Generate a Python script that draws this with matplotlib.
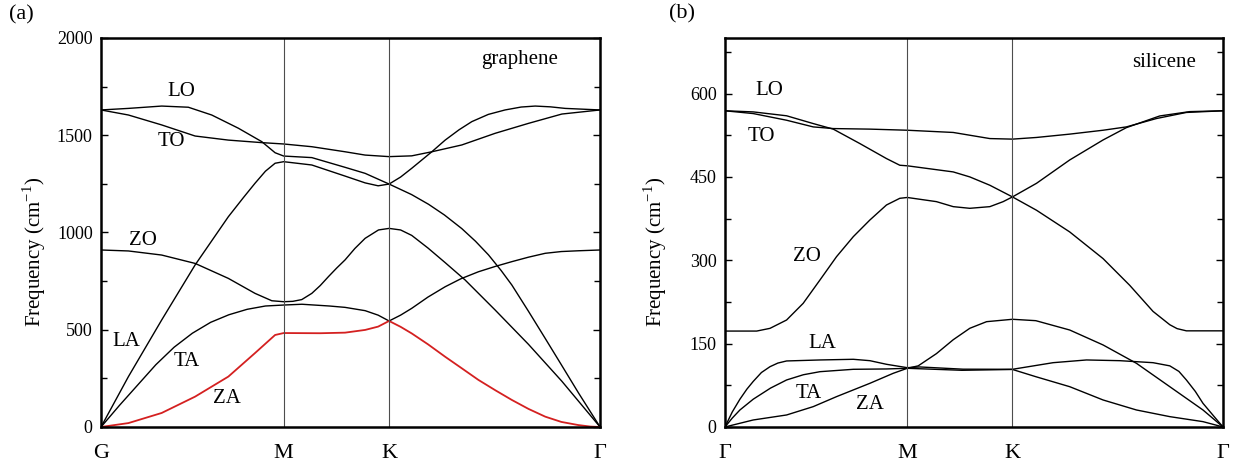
import matplotlib
matplotlib.use("Agg")
import matplotlib.pyplot as plt
from matplotlib.ticker import MultipleLocator

plt.rcParams['font.family'] = ['Liberation Serif', 'DejaVu Serif']
plt.rcParams['mathtext.fontset'] = 'custom'
plt.rcParams['mathtext.rm'] = 'Liberation Serif'

# path coordinate of the high-symmetry points (G-M = 1, M-K = 1/sqrt3, K-G = 2/sqrt3)
sym_pos = [0.0, 1.0, 1.577, 2.732]
gr_ticklabels = ['G', 'M', 'K', 'Γ']
si_ticklabels = ['Γ', 'M', 'K', 'Γ']

# ---- graphene branches (path coordinate, frequency in cm^-1)
gr_za_q = [0, 0.15, 0.332, 0.515, 0.697, 0.843, 0.953, 1.0, 1.2, 1.336, 1.446, 1.517, 1.577,
           1.64, 1.701, 1.79, 1.884, 1.97, 2.066, 2.16, 2.249, 2.34, 2.432, 2.52, 2.612, 2.68, 2.732]
gr_za_f = [0, 20, 72, 156, 259, 380, 473, 483, 482, 485, 499, 516, 545,
           515, 481, 425, 361, 305, 242, 188, 139, 93, 53, 26, 10, 2, 0]

gr_ta_q = [0, 0.1, 0.2, 0.3, 0.4, 0.5, 0.6, 0.7, 0.8, 0.9, 1.0, 1.1, 1.25, 1.336, 1.446, 1.517, 1.577,
           1.64, 1.701, 1.79, 1.884, 1.97, 2.066, 2.16, 2.249, 2.34, 2.432, 2.52, 2.614, 2.732]
gr_ta_f = [0, 110, 215, 320, 410, 482, 538, 577, 605, 622, 627, 631, 622, 615, 598, 575, 545,
           575, 610, 668, 721, 762, 798, 826, 850, 873, 893, 902, 906, 910]

gr_zo_q = [0, 0.15, 0.332, 0.515, 0.697, 0.843, 0.935, 1.0, 1.05, 1.099, 1.154, 1.2, 1.245, 1.29,
           1.336, 1.39, 1.446, 1.519, 1.577, 1.64, 1.701, 1.79, 1.884, 1.993, 2.158, 2.34, 2.523, 2.732]
gr_zo_f = [910, 905, 884, 841, 764, 687, 649, 644, 646, 655, 687, 727, 773, 817,
           859, 918, 970, 1013, 1021, 1013, 985, 920, 845, 756, 601, 425, 235, 0]

gr_la_q = [0, 0.15, 0.332, 0.515, 0.697, 0.78, 0.843, 0.9, 0.953, 1.0, 1.154, 1.336, 1.446, 1.517,
           1.577, 1.64, 1.701, 1.811, 1.884, 1.96, 2.03, 2.12, 2.212, 2.3, 2.377, 2.46, 2.541, 2.732]
gr_la_f = [0, 259, 550, 833, 1081, 1180, 1253, 1315, 1356, 1364, 1347, 1290, 1255, 1240,
           1249, 1285, 1330, 1415, 1475, 1528, 1570, 1607, 1630, 1645, 1650, 1646, 1638, 1630]

gr_lo_q = [0, 0.15, 0.332, 0.478, 0.606, 0.752, 0.88, 0.953, 1.0, 1.154, 1.336, 1.446, 1.577,
           1.70, 1.793, 1.88, 1.975, 2.05, 2.121, 2.19, 2.249, 2.34, 2.432, 2.52, 2.614, 2.732]
gr_lo_f = [1630, 1638, 1650, 1644, 1604, 1536, 1467, 1410, 1393, 1385, 1335, 1304, 1249,
           1195, 1145, 1090, 1020, 955, 885, 805, 730, 595, 455, 320, 175, 0]

gr_to_q = [0, 0.15, 0.332, 0.515, 0.697, 0.88, 1.0, 1.154, 1.336, 1.446, 1.577,
           1.701, 1.811, 1.975, 2.158, 2.34, 2.523, 2.732]
gr_to_f = [1630, 1604, 1553, 1496, 1475, 1462, 1455, 1441, 1415, 1398, 1390,
           1394, 1415, 1450, 1510, 1561, 1609, 1630]

# ---- silicene branches
si_za_q = [0, 0.155, 0.338, 0.484, 0.612, 0.795, 0.923, 1.0, 1.06, 1.16, 1.252, 1.343, 1.435, 1.577,
           1.705, 1.891, 2.074, 2.257, 2.44, 2.622, 2.732]
si_za_f = [0, 12.6, 21.6, 36.6, 54.6, 78.6, 96.6, 105.6, 110, 132, 157, 177.6, 189.5, 193.8,
           191.3, 174.5, 147.6, 114.6, 72.5, 30.6, 0]

si_ta_q = [0, 0.04, 0.082, 0.155, 0.25, 0.338, 0.43, 0.521, 0.704, 0.886, 1.0, 1.3, 1.577,
           1.705, 1.891, 2.074, 2.257, 2.44, 2.622, 2.732]
si_ta_f = [0, 16, 30.6, 50, 70, 84.6, 94, 99.5, 103.8, 104.4, 105.6, 102, 103.5,
           90.5, 72.5, 48.6, 30.6, 18.6, 9.6, 0]

si_la_q = [0, 0.04, 0.082, 0.12, 0.155, 0.2, 0.247, 0.29, 0.338, 0.521, 0.704, 0.795, 0.886, 1.0,
           1.069, 1.306, 1.577, 1.8, 1.983, 2.166, 2.348, 2.44, 2.49, 2.531, 2.58, 2.622, 2.68, 2.732]
si_la_f = [0, 27, 50, 68, 82, 98, 108.5, 115, 118.8, 120.6, 121.8, 119.3, 112.8, 106.7,
           108, 104, 103.8, 115.7, 120.6, 119.3, 115.7, 110, 100, 84.6, 64, 42.6, 20, 0]

si_zo_q = [0, 0.174, 0.247, 0.338, 0.429, 0.521, 0.612, 0.704, 0.795, 0.886, 0.959, 1.0,
           1.16, 1.252, 1.343, 1.453, 1.526, 1.577, 1.709, 1.891, 2.074, 2.202, 2.385, 2.549, 2.732]
si_zo_f = [172.6, 172.6, 177.5, 192.5, 222.5, 264.5, 306.5, 342.5, 372.5, 399.5, 411.5, 413,
           405.5, 396.5, 393.5, 396.5, 405.5, 414, 438.5, 480.5, 516.5, 538.7, 559.7, 567.5, 569]

si_lo_q = [0, 0.155, 0.338, 0.484, 0.594, 0.74, 0.886, 0.959, 1.0, 1.252, 1.343, 1.453, 1.577,
           1.709, 1.891, 2.074, 2.22, 2.348, 2.44, 2.48, 2.531, 2.732]
si_lo_f = [569, 567, 560, 546, 536, 510, 483, 471, 470, 459, 450, 435, 414,
           390, 351, 303, 255, 208, 184, 177, 173, 173]

si_to_q = [0, 0.155, 0.338, 0.484, 0.594, 0.795, 1.0, 1.252, 1.398, 1.453, 1.577,
           1.709, 1.891, 2.074, 2.202, 2.366, 2.531, 2.732]
si_to_f = [569, 564, 552, 540, 537, 536, 534, 530, 522, 519, 518,
           521, 527, 534, 540, 555, 566, 569]

# mode labels
gr_mode_names = ['LO', 'TO', 'ZO', 'LA', 'TA', 'ZA']
gr_mode_q = [0.442, 0.387, 0.232, 0.141, 0.469, 0.688]
gr_mode_f = [1724, 1467, 961, 439, 336, 147]
si_mode_names = ['LO', 'TO', 'ZO', 'LA', 'TA', 'ZA']
si_mode_q = [0.243, 0.201, 0.448, 0.536, 0.457, 0.795]
si_mode_f = [606, 522, 306, 150.6, 60.6, 39.6]

fig = plt.figure(figsize=(12.38, 4.69), dpi=100)
ax1 = fig.add_axes([0.0816, 0.0896, 0.4031, 0.8294])
ax2 = fig.add_axes([0.5856, 0.0896, 0.4023, 0.8294])

lw = 1.0
for q, f in [(gr_ta_q, gr_ta_f), (gr_zo_q, gr_zo_f), (gr_la_q, gr_la_f),
             (gr_lo_q, gr_lo_f), (gr_to_q, gr_to_f)]:
    ax1.plot(q, f, color='black', lw=lw)
ax1.plot(gr_za_q, gr_za_f, color='#d42020', lw=1.3)

for q, f in [(si_za_q, si_za_f), (si_ta_q, si_ta_f), (si_la_q, si_la_f),
             (si_zo_q, si_zo_f), (si_lo_q, si_lo_f), (si_to_q, si_to_f)]:
    ax2.plot(q, f, color='black', lw=lw)

for ax, ticklabels, ymax, major, minor in [(ax1, gr_ticklabels, 2000, 500, 250),
                                           (ax2, si_ticklabels, 700, 150, 75)]:
    for x in sym_pos[1:3]:
        ax.axvline(x, color='0.3', lw=0.8)
    ax.set_xlim(sym_pos[0], sym_pos[-1])
    ax.set_ylim(0, ymax)
    ax.set_xticks(sym_pos)
    ax.set_xticklabels(ticklabels, fontsize=16)
    ax.tick_params(axis='x', length=0, pad=12)
    ax.yaxis.set_major_locator(MultipleLocator(major))
    ax.yaxis.set_minor_locator(MultipleLocator(minor))
    ax.tick_params(axis='y', which='both', direction='in', left=True, right=True,
                   labelsize=13, width=1.0, pad=6)
    ax.tick_params(axis='y', which='major', length=5)
    ax.tick_params(axis='y', which='minor', length=4)
    for sp in ax.spines.values():
        sp.set_linewidth(1.8)
    ax.set_ylabel('Frequency (cm$^{\\mathregular{-1}}$)', fontsize=15)

ax1.yaxis.set_label_coords(-0.106, 0.45)
ax2.yaxis.set_label_coords(-0.112, 0.45)

for name, q, f in zip(gr_mode_names, gr_mode_q, gr_mode_f):
    ax1.text(q, f, name, fontsize=15, ha='center', va='center')
for name, q, f in zip(si_mode_names, si_mode_q, si_mode_f):
    ax2.text(q, f, name, fontsize=15, ha='center', va='center')

ax1.text(2.289, 1887, 'graphene', fontsize=15, ha='center', va='center')
ax2.text(2.41, 656, 'silicene', fontsize=15, ha='center', va='center')

fig.text(0.017, 0.968, '(a)', fontsize=16, ha='center', va='center')
fig.text(0.551, 0.970, '(b)', fontsize=16, ha='center', va='center')

fig.savefig('out.png', dpi=100)
